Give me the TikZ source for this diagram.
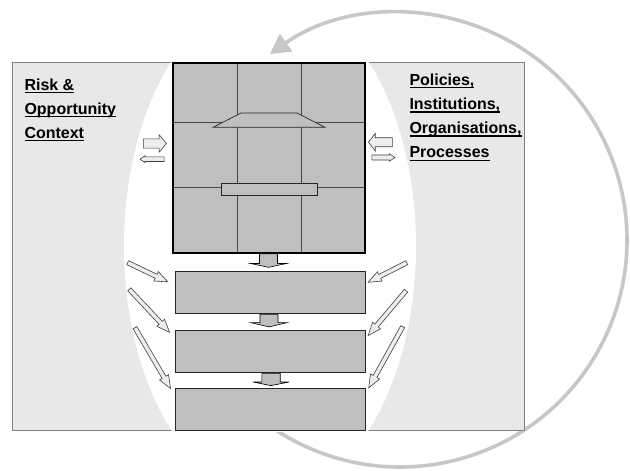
\documentclass[tikz,border=0pt]{standalone}
\usepackage{fontspec}
\setmainfont{Liberation Sans}
\usepackage{xcolor}
\usepackage{tikz}
\usetikzlibrary{arrows.meta}
\usetikzlibrary{calc}

\definecolor{panelgray}{gray}{0.91}
\definecolor{boxgray}{gray}{0.75}
\definecolor{ringgray}{gray}{0.78}
\definecolor{edgegray}{gray}{0.5}

% underlined label word
\newcommand{\ulword}[1]{\setbox0=\hbox{#1}\rlap{\rule[-3.4pt]{\wd0}{1.8pt}}\box0}

% block arrow from #2 to #3: shaft half width, head half width, head length
\newcommand{\blockarr}[6][]{%
  \draw[#1] let \p1=#2, \p2=#3,
    \n1={atan2(\y2-\y1,\x2-\x1)}, \n2={veclen(\x2-\x1,\y2-\y1)} in
    [shift={(\x1,\y1)}, rotate=\n1]
    (0pt,#4pt) -- ({\n2-#6pt},#4pt) -- ({\n2-#6pt},#5pt) -- (\n2,0pt)
    -- ({\n2-#6pt},-#5pt) -- ({\n2-#6pt},-#4pt) -- (0pt,-#4pt) -- cycle;}

\begin{document}
\begin{tikzpicture}[
  x=1pt, y=-1pt,
  ring/.style={draw=ringgray, line width=3.6pt, -{Triangle[length=20pt,width=21pt]}},
  panel/.style={fill=panelgray, draw=edgegray, line width=0.8pt},
  coreframe/.style={fill=boxgray, inner sep=0pt, minimum width=192pt, minimum height=190pt},
  stagebox/.style={fill=boxgray, draw=black!85, line width=0.8pt, inner sep=0pt,
    minimum width=189.5pt, minimum height=42pt},
  gridline/.style={draw=black!72, line width=0.9pt},
  roofpart/.style={fill=boxgray, draw=black!85, line width=0.7pt},
  openarr/.style={fill=black!7, draw=black!75, line width=0.6pt, line join=miter},
  downarr/.style={fill=boxgray, draw=black, line width=0.6pt, line join=miter},
  ctxtext/.style={anchor=base west, inner sep=0pt, font=\fontsize{16}{19}\selectfont\bfseries}
]
\useasboundingbox (0,0) rectangle (630,471);

% cycle arrow behind everything
\coordinate (hub) at (400,240);
\draw[ring] (hub) ++(124:227) arc[start angle=124, end angle=-125, radius=227];

% context panels with the white cut-out
\draw[panel] (12.5,62) rectangle (524,430);
\begin{scope}
  \clip (0,61) rectangle (630,431.2);
  \fill[white] (270,246) ellipse [x radius=146, y radius=250];
\end{scope}

% livelihood core
\node[coreframe] (core) at (269,158) {};
\draw[gridline] (237,63) -- (237,253);
\draw[gridline] (301,63) -- (301,253);
\draw[gridline] (173,122) -- (365,122);
\draw[gridline] (173,187) -- (365,187);
\draw[roofpart] (241,113) -- (297,113) -- (325,127.3) -- (213,127.3) -- cycle;
\draw[roofpart] (221,183) rectangle (317,195);
\draw[line width=1.5pt] (core.north west) rectangle (core.south east);

% outcome stages
\node[stagebox] (stage1) at (270.25,292) {};
\node[stagebox] (stage2) at (270.25,351) {};
\node[stagebox] (stage3) at (270.25,409) {};

\blockarr[downarr]{([shift={(-0.5,0.6)}]core.south)}{([shift={(-1.75,-3.3)}]stage1.north)}{9}{18}{3.8}
\blockarr[downarr]{([shift={(-1.25,1)}]stage1.south)}{([shift={(-1.25,-2.7)}]stage2.north)}{9}{18.3}{4.3}
\blockarr[downarr]{([shift={(0.75,1)}]stage2.south)}{([shift={(0.75,-2)}]stage3.north)}{9.2}{18}{3.6}

% exchanges with the panels
\coordinate (inl) at (143.3,143.5);
\coordinate (outl) at (140,159.2);
\coordinate (inr) at (392.3,142.2);
\coordinate (outr) at (395,157.5);
\blockarr[openarr]{(inl)}{([shift={(-6.3,-14.5)}]core.west)}{4.6}{8.7}{7.4}
\blockarr[openarr]{([shift={(-8.7,1.2)}]core.west)}{(outl)}{2.3}{3.4}{5}
\blockarr[openarr]{(inr)}{([shift={(3.3,-15.8)}]core.east)}{4.5}{8.8}{6.7}
\blockarr[openarr]{([shift={(6.7,-0.5)}]core.east)}{(outr)}{2.5}{3.7}{5.7}

% influences on the stages
\coordinate (l1) at (127.7,262.7);
\coordinate (l2) at (129.3,289.3);
\coordinate (l3) at (135,327.7);
\coordinate (r1) at (406.7,262.7);
\coordinate (r2) at (406,290.7);
\coordinate (r3) at (402.7,326.7);
\blockarr[openarr]{(l1)}{([shift={(-7.2,11.3)}]stage1.north west)}{2.2}{5.2}{13}
\blockarr[openarr]{(l2)}{([shift={(-5.5,2.7)}]stage2.north west)}{2.2}{5.2}{13}
\blockarr[openarr]{(l3)}{([shift={(-4.5,1)}]stage3.north west)}{2.2}{5.2}{13}
\blockarr[openarr]{(r1)}{([shift={(2.7,11.7)}]stage1.north east)}{2.2}{5.2}{13}
\blockarr[openarr]{(r2)}{([shift={(2.7,6)}]stage2.north east)}{2.2}{5.2}{13}
\blockarr[openarr]{(r3)}{([shift={(3.3,0.3)}]stage3.north east)}{2.2}{5.2}{13}

% panel labels
\foreach \w [count=\i from 0] in {Risk \&, Opportunity, Context}
  \node[ctxtext] (risk\i) at (24.3,90+24*\i) {\ulword{\w}};
\foreach \w [count=\i from 0] in {{Policies,},{Institutions,},{Organisations,},{Processes}}
  \node[ctxtext] (policy\i) at (409.3,85+24.3*\i) {\ulword{\w}};

\end{tikzpicture}
\end{document}
